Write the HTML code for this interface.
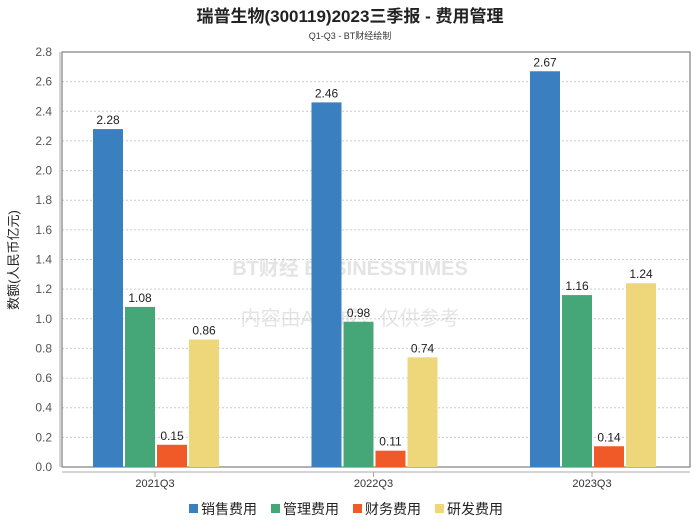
<!DOCTYPE html>
<html><head><meta charset="utf-8"><style>
body{margin:0;background:#fff;font-family:"Liberation Sans","Noto Sans CJK SC",sans-serif}
</style></head><body>
<svg width="700" height="524" xmlns="http://www.w3.org/2000/svg" style="font-family:'Liberation Sans','Noto Sans CJK SC',sans-serif">
<text x="350" y="22" text-anchor="middle" font-size="17" font-weight="bold" fill="#222">瑞普生物(300119)2023三季报 - 费用管理</text>
<text x="350" y="39" text-anchor="middle" font-size="9" fill="#333">Q1-Q3 - BT财经绘制</text>
<text x="18" y="260" text-anchor="middle" font-size="13" fill="#222" transform="rotate(-90 18 260)">数额(人民币亿元)</text>
<text x="350" y="275" text-anchor="middle" font-size="20" font-weight="bold" fill="#e4e4e4">BT财经 BUSINESSTIMES</text>
<text x="350" y="325" text-anchor="middle" font-size="20" fill="#e4e4e4">内容由AI生成，仅供参考</text>
<g id="grid"></g>
<rect x="62" y="52" width="628" height="415" fill="none" stroke="#666" stroke-width="1"/>
<line x1="60" y1="52" x2="60" y2="467" stroke="#aaa"/>
<line x1="62" y1="472" x2="690" y2="472" stroke="#aaa"/>
<g id="bars"></g>
<g id="legend"></g>
</svg>
<script>
const categories=["2021Q3","2022Q3","2023Q3"];
const seriesNames=["销售费用","管理费用","财务费用","研发费用"];
const sales=[2.28,2.46,2.67];
const admin=[1.08,0.98,1.16];
const finance=[0.15,0.11,0.14];
const rnd=[0.86,0.74,1.24];
const yTicks=[0,0.2,0.4,0.6,0.8,1.0,1.2,1.4,1.6,1.8,2.0,2.2,2.4,2.6,2.8];
const colors=["#3a7fbf","#45a777","#f05a28","#edd77a"];
const series=[sales,admin,finance,rnd];
const NS="http://www.w3.org/2000/svg";
function y(v){return 467-v*(415/2.8);}
function cx(i){return 156+i*218.5;}
function mk(t,a,p){const e=document.createElementNS(NS,t);for(const k in a)e.setAttribute(k,a[k]);p.appendChild(e);return e;}
const grid=document.getElementById('grid'),bars=document.getElementById('bars'),leg=document.getElementById('legend');
yTicks.forEach(v=>{
 const l=mk('line',{x1:62,x2:690,y1:y(v),y2:y(v),stroke:'#ccc','stroke-dasharray':'2,2'},grid);
 
 
 const t=mk('text',{x:52,y:y(v)+4,'text-anchor':'end','font-size':12,fill:'#555'},grid);
 t.textContent=v.toFixed(1);
 
 
});
categories.forEach((c,i)=>{
 const tk=mk('line',{x1:cx(i)-1,x2:cx(i)-1,y1:472,y2:477,stroke:'#aaa'},bars);
 
 
 const t=mk('text',{x:cx(i)-1,y:487,'text-anchor':'middle','font-size':11,fill:'#333'},bars);
 t.textContent=c;
 
 
 series.forEach((s,j)=>{
  const x=cx(i)-63+j*32;
  const r=mk('rect',{x:x,y:y(s[i]),width:30,height:467-y(s[i]),fill:colors[j]},bars);
  
  
  const lt=mk('text',{x:x+15,y:y(s[i])-5,'text-anchor':'middle','font-size':12,fill:'#222'},bars);
  lt.textContent=s[i].toFixed(2);
  
  
 });
});
seriesNames.forEach((n,j)=>{
 const x=189+j*82;
 const r=mk('rect',{x:x,y:504,width:9,height:9,fill:colors[j]},leg);
 
 
 const t=mk('text',{x:x+12,y:514,'font-size':14,fill:'#222'},leg);
 t.textContent=n;
 
 
});
</script>
</body></html>
